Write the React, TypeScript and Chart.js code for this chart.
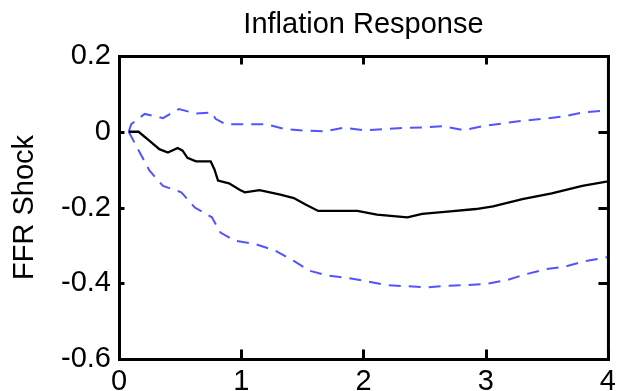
import React, { useEffect, useRef } from "react";
import { Chart, registerables } from "chart.js";

Chart.register(...registerables);

// Impulse response of inflation to a federal funds rate shock (horizon in years)
const responseX = [0.08, 0.16, 0.25, 0.33, 0.4, 0.48, 0.52, 0.56, 0.63, 0.75, 0.78, 0.81, 0.9, 0.99, 1.03, 1.15, 1.32, 1.43, 1.53, 1.63, 1.95, 2.11, 2.36, 2.48, 2.71, 2.92, 3.06, 3.3, 3.54, 3.79, 4.0];
const responseY = [0, 0, -0.024, -0.046, -0.055, -0.043, -0.05, -0.069, -0.078, -0.078, -0.099, -0.129, -0.136, -0.154, -0.16, -0.154, -0.166, -0.175, -0.193, -0.209, -0.209, -0.219, -0.226, -0.217, -0.21, -0.204, -0.197, -0.178, -0.163, -0.143, -0.131];

// Upper confidence band
const upperX = [0.08, 0.1, 0.21, 0.36, 0.49, 0.63, 0.76, 0.79, 0.87, 1.03, 1.2, 1.36, 1.52, 1.68, 1.84, 2.0, 2.17, 2.33, 2.49, 2.65, 2.82, 2.98, 3.14, 3.3, 3.46, 3.63, 3.79, 3.95, 4.0];
const upperY = [0, 0.02, 0.047, 0.036, 0.06, 0.048, 0.051, 0.034, 0.02, 0.02, 0.02, 0.007, 0.003, 0.001, 0.011, 0.004, 0.007, 0.01, 0.011, 0.015, 0.004, 0.015, 0.022, 0.029, 0.034, 0.04, 0.051, 0.055, 0.057];

// Lower confidence band
const lowerX = [0.08, 0.17, 0.25, 0.36, 0.51, 0.62, 0.76, 0.83, 0.95, 1.11, 1.28, 1.43, 1.56, 1.71, 1.87, 2.03, 2.19, 2.36, 2.52, 2.68, 2.84, 3.0, 3.17, 3.33, 3.49, 3.65, 3.81, 4.0];
const lowerY = [0, -0.055, -0.103, -0.143, -0.16, -0.2, -0.226, -0.266, -0.288, -0.296, -0.314, -0.341, -0.367, -0.38, -0.386, -0.395, -0.405, -0.408, -0.411, -0.407, -0.405, -0.402, -0.392, -0.376, -0.363, -0.356, -0.342, -0.331];

const xTicks = [0, 1, 2, 3, 4];
const yTicks = [-0.6, -0.4, -0.2, 0, 0.2];
const yTickLabels = ["-0.6", "-0.4", "-0.2", "0", "0.2"];

const chartTitle = "Inflation Response";
const yAxisTitle = "FFR Shock";

const FONT = 'Arial, "Liberation Sans", Helvetica, sans-serif';

const toPoints = (xs: number[], ys: number[]) => xs.map((x, i) => ({ x, y: ys[i] }));

// Title centred over the plotting box rather than the whole canvas
const boxTitle = {
  id: "boxTitle",
  afterDraw(chart: any) {
    const { ctx, chartArea: a } = chart;
    ctx.save();
    ctx.fillStyle = "#000";
    ctx.font = `29px ${FONT}`;
    ctx.textAlign = "center";
    ctx.textBaseline = "alphabetic";
    ctx.fillText(chartTitle, (a.left + a.right) / 2, 33);
    ctx.restore();
  },
};

// Boxed axes with inward tick marks on all four sides
const frameTicks = {
  id: "frameTicks",
  afterDatasetsDraw(chart: any) {
    const { ctx, chartArea: a, scales } = chart;
    const xs = scales.x;
    const ys = scales.y;
    const L = a.left + 0.5;
    const R = a.right + 0.5;
    const T = a.top + 0.5;
    const B = a.bottom + 0.5;
    ctx.save();
    ctx.setLineDash([]);
    ctx.strokeStyle = "#000";
    ctx.lineWidth = 3;
    ctx.strokeRect(L, T, R - L, B - T);
    ctx.beginPath();
    for (const v of xTicks) {
      const px = Math.round(xs.getPixelForValue(v)) + 0.5;
      ctx.moveTo(px, B);
      ctx.lineTo(px, B - 10);
      ctx.moveTo(px, T);
      ctx.lineTo(px, T + 8);
    }
    for (const v of yTicks) {
      const py = Math.round(ys.getPixelForValue(v)) + 0.5;
      ctx.moveTo(L, py);
      ctx.lineTo(L + 5, py);
      ctx.moveTo(R, py);
      ctx.lineTo(R - 10, py);
    }
    ctx.stroke();
    ctx.restore();
  },
};

export default function App() {
  const canvasRef = useRef<HTMLCanvasElement | null>(null);

  useEffect(() => {
    const canvas = canvasRef.current;
    if (!canvas) return;
    const bandStyle = {
      borderColor: "rgba(25,25,255,0.75)",
      borderWidth: 2,
      borderDash: [12, 8],
      pointRadius: 0,
      fill: false,
      tension: 0,
    };
    const chart = new Chart(canvas, {
      type: "line",
      data: {
        datasets: [
          {
            label: "Response",
            data: toPoints(responseX, responseY),
            borderColor: "#000",
            borderWidth: 2.3,
            pointRadius: 0,
            fill: false,
            tension: 0,
          },
          { label: "Upper", data: toPoints(upperX, upperY), ...bandStyle },
          { label: "Lower", data: toPoints(lowerX, lowerY), ...bandStyle },
        ],
      },
      options: {
        responsive: false,
        animation: false,
        devicePixelRatio: 1,
        layout: { padding: { left: 0, right: 9, top: 56, bottom: 0 } },
        plugins: {
          legend: { display: false },
          tooltip: { enabled: false },
          title: { display: false },
        },
        scales: {
          x: {
            type: "linear",
            min: 0,
            max: 4,
            afterBuildTicks: (s: any) => {
              s.ticks = xTicks.map((v) => ({ value: v }));
            },
            afterFit: (s: any) => {
              s.height = 32;
            },
            grid: { display: false, drawTicks: false },
            border: { display: false },
            ticks: {
              color: "#000",
              font: { family: FONT, size: 29 },
              padding: 6,
              maxRotation: 0,
              autoSkip: false,
              callback: (v: any) => String(v),
            },
          },
          y: {
            type: "linear",
            min: -0.6,
            max: 0.2,
            afterBuildTicks: (s: any) => {
              s.ticks = yTicks.map((v) => ({ value: v }));
            },
            afterFit: (s: any) => {
              s.width = 119;
            },
            grid: { display: false, drawTicks: false },
            border: { display: false },
            ticks: {
              color: "#000",
              font: { family: FONT, size: 29 },
              padding: 8,
              autoSkip: false,
              callback: (v: any) => {
                const i = yTicks.findIndex((t) => Math.abs(t - Number(v)) < 1e-9);
                return i >= 0 ? yTickLabels[i] : "";
              },
            },
            title: {
              display: true,
              text: yAxisTitle,
              color: "#000",
              font: { family: FONT, size: 29 },
              padding: { top: 8, bottom: 0 },
            },
          },
        },
      },
      plugins: [frameTicks, boxTitle],
    } as any);
    return () => chart.destroy();
  }, []);

  return (
    <div style={{ position: "fixed", left: 0, top: 0, width: 622, height: 391, background: "#fff" }}>
      <canvas ref={canvasRef} width={622} height={391} style={{ display: "block" }} />
    </div>
  );
}
